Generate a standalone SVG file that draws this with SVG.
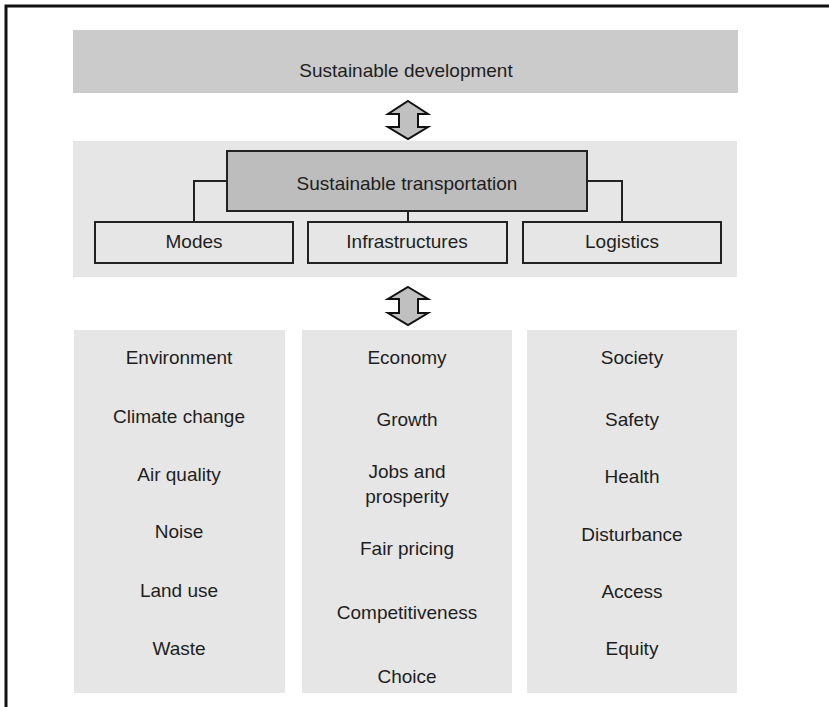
<svg xmlns="http://www.w3.org/2000/svg" width="829" height="707" viewBox="0 0 829 707">
  <style>
    text { font-family: "Liberation Sans", Arial, sans-serif; font-size: 19px; fill: #1e1e1e; text-anchor: middle; }
    .panel { fill: #e6e6e6; stroke: none; }
    .box { fill: #e6e6e6; stroke: #222; stroke-width: 2; }
    .main { fill: #bdbdbd; stroke: #222; stroke-width: 2; }
    .conn { fill: none; stroke: #222; stroke-width: 2; }
    .arrow { fill: #c0c0c0; stroke: #111; stroke-width: 2; stroke-linejoin: miter; }
  </style>
  <rect x="0" y="0" width="829" height="707" fill="#ffffff"/>
  <path d="M6 707 V6 H829" fill="none" stroke="#111" stroke-width="3"/>

  <g id="sustainable-development">
    <rect x="73" y="30" width="665" height="63" fill="#cbcbcb"/>
    <text x="406" y="77">Sustainable development</text>
  </g>

  <g id="arrow-top">
    <polygon class="arrow" points="408,101 428,114 418,114 418,127 428,127 408,139 388,127 399,127 399,114 388,114"/>
  </g>

  <g id="transport-panel">
    <rect class="panel" x="73" y="141" width="664" height="136"/>
  </g>

  <g id="connectors">
    <polyline class="conn" points="227,181 194,181 194,222"/>
    <polyline class="conn" points="587,181 622,181 622,222"/>
    <line class="conn" x1="408" y1="211" x2="408" y2="222"/>
  </g>

  <g id="sustainable-transportation">
    <rect class="main" x="227" y="151" width="360" height="60"/>
    <text x="407" y="190">Sustainable transportation</text>
  </g>
  <g id="modes">
    <rect class="box" x="95" y="222" width="198" height="41"/>
    <text x="194" y="248">Modes</text>
  </g>
  <g id="infrastructures">
    <rect class="box" x="308" y="222" width="199" height="41"/>
    <text x="407" y="248">Infrastructures</text>
  </g>
  <g id="logistics">
    <rect class="box" x="523" y="222" width="198" height="41"/>
    <text x="622" y="248">Logistics</text>
  </g>

  <g id="arrow-bottom">
    <polygon class="arrow" points="408,287 428,299 418,299 418,313 428,313 408,325 388,313 399,313 399,299 388,299"/>
  </g>

  <g id="environment">
    <rect class="panel" x="74" y="330" width="211" height="363"/>
    <text x="179" y="364">Environment</text>
    <text x="179" y="423">Climate change</text>
    <text x="179" y="481">Air quality</text>
    <text x="179" y="538">Noise</text>
    <text x="179" y="597">Land use</text>
    <text x="179" y="655">Waste</text>
  </g>

  <g id="economy">
    <rect class="panel" x="302" y="330" width="210" height="363"/>
    <text x="407" y="364">Economy</text>
    <text x="407" y="426">Growth</text>
    <text x="407" y="478">Jobs and</text>
    <text x="407" y="503">prosperity</text>
    <text x="407" y="555">Fair pricing</text>
    <text x="407" y="619">Competitiveness</text>
    <text x="407" y="683">Choice</text>
  </g>

  <g id="society">
    <rect class="panel" x="527" y="330" width="210" height="363"/>
    <text x="632" y="364">Society</text>
    <text x="632" y="426">Safety</text>
    <text x="632" y="483">Health</text>
    <text x="632" y="541">Disturbance</text>
    <text x="632" y="598">Access</text>
    <text x="632" y="655">Equity</text>
  </g>
</svg>
